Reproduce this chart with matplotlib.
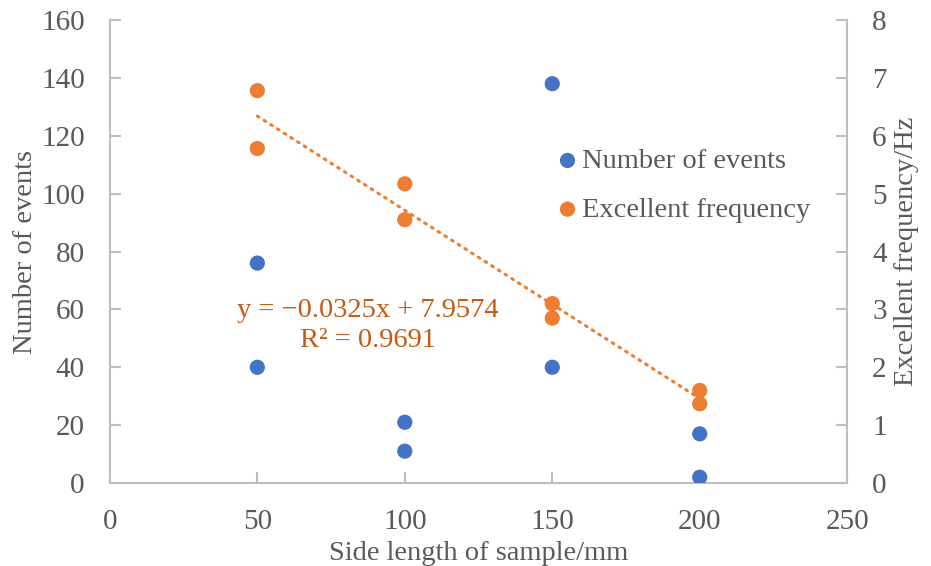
import numpy as np
import matplotlib.pyplot as plt

plt.rcParams['font.family'] = ['Liberation Serif', 'DejaVu Serif']

# data
side_len = [50, 50, 100, 100, 150, 150, 200, 200]
n_events = [76, 40, 21, 11, 138, 40, 17, 2]
exc_freq = [6.78, 5.78, 5.17, 4.55, 3.10, 2.85, 1.60, 1.37]
trend_txt = 'y = \u22120.0325x + 7.9574\nR\u00b2 = 0.9691'

blue = '#4472C4'
orange = '#ED7D31'
grey = '#BFBFBF'
txt = '#595959'

fig = plt.figure(figsize=(9.31, 5.66), dpi=100)
ax = fig.add_axes([0.118, 0.1466, 0.792, 0.818])
ax2 = ax.twinx()

ax.scatter(side_len, n_events, s=120, color=blue, edgecolors='none', zorder=3,
           label='Number of events')
ax2.scatter(side_len, exc_freq, s=120, color=orange, edgecolors='none', zorder=3,
            label='Excellent frequency')

# linear trend on the frequency series
k, b = np.polyfit(side_len, exc_freq, 1)
xs = np.array([min(side_len), max(side_len)])
ax2.plot(xs, k * xs + b, color=orange, lw=2.2, ls=(0, (0.6, 2.0)),
         dash_capstyle='round', zorder=2)
ax2.text(87.5, 2.72, trend_txt, color='#C55A11', fontsize=20.5, ha='center',
         va='center', linespacing=1.25)

ax.set_xlim(0, 250)
ax.set_ylim(0, 160)
ax2.set_ylim(0, 8)
ax.set_xticks(range(0, 251, 50))
ax.set_yticks(range(0, 161, 20))
ax2.set_yticks(range(0, 9))

for a in (ax, ax2):
    a.spines['top'].set_visible(False)
    for sp in ('left', 'right', 'bottom'):
        a.spines[sp].set_color(grey)
        a.spines[sp].set_linewidth(1.5)
    a.tick_params(colors=txt, labelsize=21, length=8, width=1.5, color=grey,
                  direction='in')
ax.spines['right'].set_visible(False)
ax2.spines['left'].set_visible(False)
ax2.spines['bottom'].set_visible(False)
ax.tick_params(axis='y', pad=18)
ax.tick_params(axis='x', pad=19)
ax2.tick_params(axis='y', pad=18)

ax.set_xlabel('Side length of sample/mm', color=txt, fontsize=20.5, labelpad=4)
ax.set_ylabel('Number of events', color=txt, fontsize=20.5, labelpad=2)
ax2.set_ylabel('Excellent frequency/Hz', color=txt, fontsize=20.5, labelpad=5)

h1, l1 = ax.get_legend_handles_labels()
h2, l2 = ax2.get_legend_handles_labels()
ax2.legend(h1 + h2, l1 + l2, loc='center left', bbox_to_anchor=(0.555, 0.643),
           frameon=False, fontsize=20.5, handletextpad=-0.3, labelcolor=txt,
           markerscale=1.0, labelspacing=0.8, handlelength=1.6)

fig.savefig('out.png', dpi=100)
